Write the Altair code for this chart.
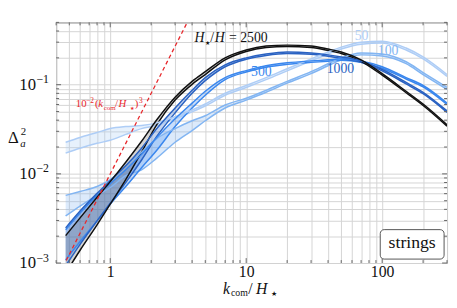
import altair as alt
import pandas as pd

# ---------------- data ----------------
K = [0.47, 0.6, 0.8, 1.0, 1.3, 1.7, 2.2, 3, 4, 5, 7, 10, 14, 20, 30, 40, 50, 70, 100, 150, 200, 300]

series = ["50", "100", "500", "1000", "2500"]

s50_hi = [0.0226, 0.0256, 0.0291, 0.0322, 0.0339, 0.0348, 0.0373, 0.0437, 0.0521, 0.0607, 0.0802,
          0.098, 0.120, 0.151, 0.195, 0.233, 0.264, 0.300, 0.308, 0.258, 0.205, 0.130]
s50_lo = [0.0171, 0.0194, 0.0220, 0.0238, 0.0277, 0.0322, 0.0348, 0.0415, 0.0496, 0.0577, 0.0762,
          0.0931, 0.114, 0.143, 0.185, 0.221, 0.251, 0.285, 0.293, 0.245, 0.195, 0.124]

s100_hi = [0.00574, 0.00635, 0.00721, 0.00861, 0.0123, 0.0175, 0.0249, 0.0322, 0.0394, 0.0448, 0.0592,
           0.0706, 0.0865, 0.109, 0.140, 0.172, 0.200, 0.227, 0.221, 0.181, 0.137, 0.0933]
s100_lo = [0.00337, 0.00435, 0.00574, 0.00703, 0.00953, 0.0111, 0.0150, 0.0226, 0.0306, 0.0394, 0.0548,
           0.0671, 0.0822, 0.104, 0.133, 0.163, 0.190, 0.216, 0.210, 0.172, 0.130, 0.0886]

s500_hi = [0.00236, 0.00364, 0.00574, 0.00778, 0.0111, 0.0166, 0.0256, 0.0415, 0.0622, 0.0844, 0.120,
           0.144, 0.163, 0.176, 0.185, 0.190, 0.195, 0.185, 0.159, 0.120, 0.098, 0.0622]
s500_lo = [0.00108, 0.00174, 0.00297, 0.00457, 0.00721, 0.0117, 0.0184, 0.0339, 0.0548, 0.0762, 0.114,
           0.139, 0.157, 0.169, 0.178, 0.183, 0.188, 0.178, 0.153, 0.116, 0.0944, 0.0599]

s1000_hi = [0.00248, 0.00383, 0.00604, 0.00840, 0.0123, 0.0194, 0.0322, 0.0548, 0.0865, 0.120, 0.167,
            0.200, 0.221, 0.233, 0.227, 0.216, 0.205, 0.185, 0.148, 0.106, 0.0822, 0.0508]
s1000_lo = [0.00093, 0.00162, 0.00297, 0.00469, 0.00798, 0.0143, 0.0263, 0.0483, 0.0802, 0.111, 0.159,
            0.193, 0.213, 0.224, 0.219, 0.208, 0.197, 0.178, 0.143, 0.102, 0.0792, 0.0489]

s2500_hi = [0.00203, 0.00321, 0.00546, 0.00818, 0.0135, 0.0232, 0.0404, 0.0724, 0.109, 0.140, 0.200,
            0.245, 0.271, 0.278, 0.271, 0.251, 0.233, 0.190, 0.133, 0.0844, 0.0607, 0.0356]
s2500_lo = [0.00077, 0.00139, 0.00268, 0.00457, 0.00861, 0.0175, 0.0356, 0.0672, 0.101, 0.130, 0.190,
            0.236, 0.261, 0.268, 0.261, 0.242, 0.224, 0.183, 0.128, 0.0813, 0.0585, 0.0343]

red_k = [0.45, 4.0]
red_v = [0.00091, 0.64]

line_colors = ["#aecdf6", "#82b5f2", "#3a87ee", "#2a62c2", "#111111"]
fill_colors = ["#a9cbf5", "#80b4f2", "#3d8af0", "#2b63c4", "#6a6a6a"]

x_ticks = [0.4, 0.5, 0.6, 0.7, 0.8, 0.9, 1, 2, 3, 4, 5, 6, 7, 8, 9, 10, 20, 30, 40, 50, 60, 70, 80, 90,
           100, 200, 300]
x_major = [1, 10, 100]
y_ticks = [0.001, 0.002, 0.003, 0.004, 0.005, 0.006, 0.007, 0.008, 0.009,
           0.01, 0.02, 0.03, 0.04, 0.05, 0.06, 0.07, 0.08, 0.09,
           0.1, 0.2, 0.3, 0.4, 0.5]
y_major = [0.001, 0.01, 0.1]
y_exp = ["\u22123", "\u22122", "\u22121"]

# ---------------- build tables ----------------
HI = {"50": s50_hi, "100": s100_hi, "500": s500_hi, "1000": s1000_hi, "2500": s2500_hi}
LO = {"50": s50_lo, "100": s100_lo, "500": s500_lo, "1000": s1000_lo, "2500": s2500_lo}
rows = []
for s in series:
    for k, h, l in zip(K, HI[s], LO[s]):
        rows.append({"k": k, "hi": h, "lo": l, "s": s})
df = pd.DataFrame(rows)
df_red = pd.DataFrame({"k": red_k, "v": red_v})

W, H = 398, 245
SERIF = "Liberation Serif, Times New Roman, DejaVu Serif, serif"

xscale = alt.Scale(type="log", domain=[0.4, 300], nice=False)
yscale = alt.Scale(type="log", domain=[0.001, 0.5], nice=False)

xaxis = alt.Axis(values=x_ticks, grid=True, gridColor="#d4d4d4", gridWidth=1, tickSize=0, domain=False,
                 title=None, labelFont=SERIF, labelFontSize=16, labelColor="#111",
                 labelBaseline="alphabetic", labelPadding=13.5, labelOverlap=False, labelFlush=False,
                 labelBound=False,
                 labelExpr="datum.value == 1 ? '1' : datum.value == 10 ? '10' : datum.value == 100 ? '100' : ''")
yaxis = alt.Axis(values=y_ticks, grid=True, gridColor="#d4d4d4", gridWidth=1, tickSize=0, domain=False,
                 title=None, labels=False)


def X(field="k"):
    return alt.X(f"{field}:Q", scale=xscale, axis=xaxis)


def Y(field):
    return alt.Y(f"{field}:Q", scale=yscale, axis=yaxis)


col_line = alt.Color("s:N", scale=alt.Scale(domain=series, range=line_colors), legend=None)
col_fill = alt.Fill("s:N", scale=alt.Scale(domain=series, range=fill_colors), legend=None)

base = alt.Chart(df)
areas = base.mark_area(opacity=0.28, interpolate="monotone", clip=True).encode(
    x=X(), y=Y("hi"), y2="lo:Q", fill=col_fill)
lines_hi = base.mark_line(strokeWidth=1.5, interpolate="monotone", clip=True).encode(
    x=X(), y=Y("hi"), color=col_line, detail="s:N")
lines_lo = base.mark_line(strokeWidth=1.5, interpolate="monotone", clip=True).encode(
    x=X(), y=Y("lo"), color=col_line, detail="s:N")
red = alt.Chart(df_red).mark_line(color="#e8282c", strokeDash=[4, 3], strokeWidth=1.3, clip=True).encode(
    x=X(), y=Y("v"))

# inward frame ticks
dfx_minor = pd.DataFrame({"k": [t for t in x_ticks if t not in x_major]})
dfx_major = pd.DataFrame({"k": x_major})
dfy_minor = pd.DataFrame({"v": [t for t in y_ticks if t not in y_major]})
dfy_major = pd.DataFrame({"v": y_major})
TICK = "#666666"
ticks = []
for d, ln in ((dfx_minor, 3), (dfx_major, 5)):
    for y0, y1 in ((H, H - ln), (0, ln)):
        ticks.append(alt.Chart(d).mark_rule(color=TICK, strokeWidth=1).encode(
            x=X(), y=alt.value(y0), y2=alt.value(y1)))
for d, ln in ((dfy_minor, 3), (dfy_major, 5)):
    for x0, x1 in ((0, ln), (W, W - ln)):
        ticks.append(alt.Chart(d).mark_rule(color=TICK, strokeWidth=1).encode(
            y=Y("v"), x=alt.value(x0), x2=alt.value(x1)))

# y tick labels 10^-n
df_yl = pd.DataFrame({"v": y_major, "e": y_exp})
ylab10 = alt.Chart(df_yl).mark_text(align="right", baseline="alphabetic", font=SERIF, fontSize=17,
                                    dy=5, color="#111").encode(
    x=alt.value(-20.5), y=Y("v"), text=alt.value("10"))
ylabexp = alt.Chart(df_yl).mark_text(align="left", baseline="alphabetic", font=SERIF, fontSize=12,
                                     dy=-1.5, color="#111").encode(
    x=alt.value(-20), y=Y("v"), text="e:N")

one = pd.DataFrame({"a": [0]})


def piece(txt, x, y, size, italic=False, color="#111", align="left"):
    kw = dict(align=align, baseline="alphabetic", font=SERIF, fontSize=size, color=color)
    if italic:
        kw["fontStyle"] = "italic"
    return alt.Chart(one).mark_text(**kw).encode(x=alt.value(x), y=alt.value(y), text=alt.value(txt))


STAR = "\u2605"
RED = "#e8282c"
texts = [
    # x title  k_com / H_star
    piece("k", 170, 276.5, 16, italic=True),
    piece("com", 178, 278.5, 10),
    piece("/", 195.5, 276.5, 16),
    piece("H", 203.5, 276.5, 16, italic=True),
    piece(STAR, 218.5, 278.5, 7),
    # y title  Delta^2_a
    piece("\u0394", -49, 123, 17),
    piece("2", -36, 114.5, 11),
    piece("a", -36.5, 127, 11, italic=True),
    # H*/H = 2500
    piece("H", 141, 20, 14, italic=True),
    piece(STAR, 151.5, 23, 6),
    piece("/", 157, 20, 14),
    piece("H", 161.5, 20, 14, italic=True),
    piece("= 2500", 176, 20, 14),
    # series labels
    piece("50", 311, 18, 14, color=line_colors[0], align="center"),
    piece("100", 338, 33, 14, color=line_colors[1], align="center"),
    piece("500", 209, 55, 14, color=line_colors[2], align="center"),
    piece("1000", 289.5, 52, 14, color=line_colors[3], align="center"),
    # red label 10^-2 (k_com/H_*)^3
    piece("10", 20, 86.5, 11, color=RED),
    piece("\u22122", 30.5, 82, 7.5, color=RED),
    piece("(", 39.5, 86.5, 11, color=RED),
    piece("k", 43, 86.5, 11, italic=True, color=RED),
    piece("com", 48.5, 89, 7, color=RED),
    piece("/", 60, 86.5, 11, color=RED),
    piece("H", 63.5, 86.5, 11, italic=True, color=RED),
    piece(STAR, 75, 89, 5, color=RED),
    piece(")", 80, 86.5, 11, color=RED),
    piece("3", 84.5, 82, 7.5, color=RED),
]

box = alt.Chart(one).mark_rect(fill="white", stroke="#555", strokeWidth=1, cornerRadius=4).encode(
    x=alt.value(330), x2=alt.value(395), y=alt.value(211), y2=alt.value(241))
box_txt = piece("strings", 362.5, 230, 18, align="center")

chart = alt.layer(
    areas, lines_lo, lines_hi, red, *ticks, ylab10, ylabexp, *texts, box, box_txt
).properties(
    width=W, height=H, autosize="none",
    padding={"left": 49, "top": 12, "right": 2, "bottom": 35},
).configure_view(stroke="#555", strokeWidth=1)

chart.save("out.html", embed_options={"renderer": "svg", "actions": False})
